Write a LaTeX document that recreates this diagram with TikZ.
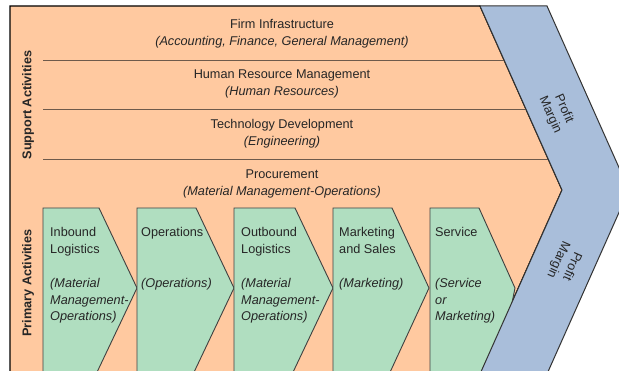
\documentclass[tikz,border=0pt]{standalone}
\usepackage{fontspec}
\setmainfont{Liberation Sans}
\definecolor{peach}{RGB}{255,201,160}
\definecolor{mint}{RGB}{176,222,192}
\definecolor{steel}{RGB}{169,190,218}
\definecolor{sepline}{RGB}{110,90,75}
\newcommand{\toplines}[2]{\begin{tabular}[t]{@{}#1@{}}#2\end{tabular}}
\begin{document}
\begin{tikzpicture}[x=1pt,y=-1pt,
  txt/.style={font=\fontsize{12.7}{16.8}\selectfont, inner sep=0pt, text=black!85},
  rowtxt/.style={txt, anchor=base},
  chevtxt/.style={txt, anchor=base west},
  sidetxt/.style={txt, font=\fontsize{12.7}{15}\selectfont\bfseries, rotate=90, anchor=center},
  pmtxt/.style={txt, font=\fontsize{12.7}{15}\selectfont, align=center, anchor=center},
  chevbox/.style={fill=mint, draw=black!75, line width=0.9pt, line join=miter},
  outerbox/.style={fill=peach, draw=black, line width=1.2pt},
  bandbox/.style={fill=steel, draw=black!80, line width=1pt},
  sep/.style={draw=sepline, line width=0.9pt}]
\useasboundingbox (0,0) rectangle (619,371);
\clip (0,0) rectangle (619,371);
\fill[white] (0,0) rectangle (619,371);
% outer peach area
\draw[outerbox] (10,395) -- (10,6) -- (480,6) -- (562,190) -- (480,374) -- (470.6,395);
% separators
\draw[sep] (43,60) -- (504.1,60);
\draw[sep] (43,109) -- (525.9,109);
\draw[sep] (43,159) -- (548.2,159);
% support rows
\node[rowtxt] (firm) at (282,29) {\toplines{c}{Firm Infrastructure\\\itshape (Accounting, Finance, General Management)}};
\node[rowtxt] (hrm) at (282,79) {\toplines{c}{Human Resource Management\\\itshape (Human Resources)}};
\node[rowtxt] (tech) at (282,129) {\toplines{c}{Technology Development\\\itshape (Engineering)}};
\node[rowtxt] (proc) at (282,179) {\toplines{c}{Procurement\\\itshape (Material Management-Operations)}};
% side labels
\node[sidetxt] (support) at (28,105) {Support Activities};
\node[sidetxt] (primary) at (28,283) {Primary Activities};
% chevrons
\draw[chevbox] (43,390) -- (43,208) -- (99,208) -- (137,288) -- (89.5,388);
\draw[chevbox] (137,390) -- (137,208) -- (196,208) -- (234,288) -- (186.5,388);
\draw[chevbox] (234,390) -- (234,208) -- (295,208) -- (333,288) -- (285.5,388);
\draw[chevbox] (333,390) -- (333,208) -- (392,208) -- (429,288) -- (382.75,388);
\draw[chevbox] (430,390) -- (430,208) -- (479,208) -- (515,288) -- (495,388);
\node[chevtxt] (inb) at (50,237) {\toplines{l}{Inbound\\Logistics\\[16.8pt]\itshape (Material\\\itshape Management-\\\itshape Operations)}};
\node[chevtxt] (ops) at (141,237) {\toplines{l}{Operations\\[33.6pt]\itshape (Operations)}};
\node[chevtxt] (outb) at (241,237) {\toplines{l}{Outbound\\Logistics\\[16.8pt]\itshape (Material\\\itshape Management-\\\itshape Operations)}};
\node[chevtxt] (mkt) at (339,237) {\toplines{l}{Marketing\\and Sales\\[16.8pt]\itshape (Marketing)}};
\node[chevtxt] (svc) at (435,237) {\toplines{l}{Service\\[33.6pt]\itshape (Service\\\itshape or\\\itshape Marketing)}};
% profit margin band
\draw[bandbox] (480,6) -- (547,6) -- (629,190) -- (547,374) -- (480,374) -- (562,190) -- cycle;
\node[pmtxt, rotate=-66] (pm1) at (557,112) {Profit\\Margin};
\node[pmtxt, rotate=-114] (pm2) at (565,263) {Profit\\Margin};
\end{tikzpicture}
\end{document}
